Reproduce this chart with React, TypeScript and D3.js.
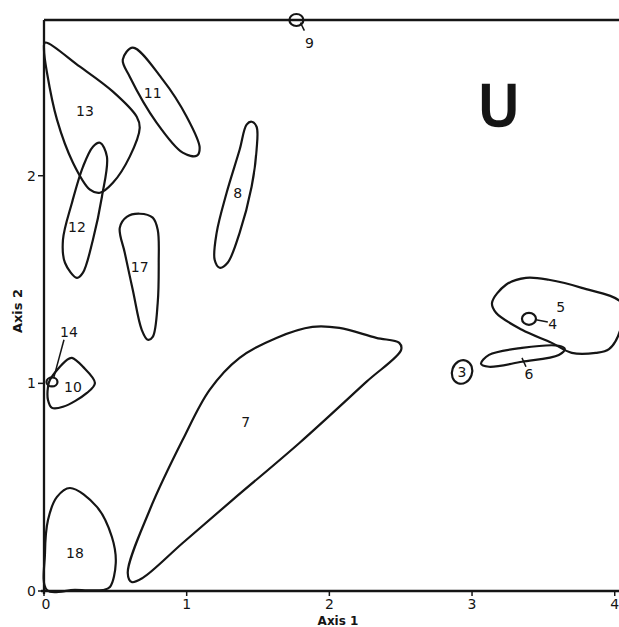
import React, { useEffect, useRef } from "react";
import * as d3 from "d3";

// outlines of the groups, in axis units [axis1, axis2]
const blob13 = [[0.007, 2.641], [0.252, 2.525], [0.483, 2.405], [0.65, 2.284], [0.671, 2.231], [0.601, 2.092], [0.483, 1.966], [0.392, 1.918], [0.322, 1.933], [0.203, 2.063], [0.091, 2.27], [0.021, 2.496], [0.0, 2.607]];
const blob11 = [[0.622, 2.617], [0.832, 2.463], [1.0, 2.284], [1.091, 2.135], [1.07, 2.096], [0.972, 2.111], [0.79, 2.255], [0.601, 2.477], [0.552, 2.559]];
const blob12 = [[0.392, 2.159], [0.441, 2.092], [0.406, 1.899], [0.343, 1.692], [0.273, 1.533], [0.231, 1.508], [0.147, 1.581], [0.133, 1.692], [0.196, 1.87], [0.273, 2.043], [0.343, 2.14]];
const blob17 = [[0.531, 1.749], [0.58, 1.802], [0.671, 1.817], [0.762, 1.798], [0.797, 1.74], [0.804, 1.581], [0.797, 1.388], [0.762, 1.224], [0.727, 1.21], [0.685, 1.258], [0.622, 1.451], [0.566, 1.629]];
const blob8 = [[1.455, 2.26], [1.49, 2.236], [1.49, 2.125], [1.455, 1.947], [1.371, 1.725], [1.287, 1.581], [1.231, 1.557], [1.196, 1.595], [1.21, 1.725], [1.28, 1.918], [1.371, 2.125], [1.42, 2.246]];
const blob10 = [[0.042, 1.017], [0.161, 1.113], [0.196, 1.123], [0.273, 1.08], [0.357, 1.002], [0.301, 0.954], [0.133, 0.887], [0.056, 0.882], [0.028, 0.92], [0.028, 0.983]];
const blob18 = [[0.182, 0.496], [0.371, 0.405], [0.476, 0.26], [0.503, 0.135], [0.462, 0.019], [0.413, 0.005], [0.217, 0.005], [0.021, 0.005], [0.007, 0.183], [0.028, 0.342], [0.091, 0.453]];
const blob7 = [[0.615, 0.043], [0.587, 0.087], [0.741, 0.39], [0.972, 0.728], [1.161, 0.969], [1.371, 1.123], [1.629, 1.219], [1.881, 1.272], [2.07, 1.267], [2.329, 1.219], [2.49, 1.195], [2.503, 1.161], [2.259, 1.007], [1.79, 0.713], [1.322, 0.439], [0.972, 0.231], [0.692, 0.063]];
const blob5 = [[3.14, 1.388], [3.238, 1.475], [3.378, 1.508], [3.538, 1.499], [3.769, 1.46], [4.05, 1.385], [4.04, 1.26], [3.96, 1.165], [3.867, 1.147], [3.699, 1.147], [3.559, 1.195], [3.35, 1.258], [3.168, 1.34]];
const blob6 = [[3.063, 1.094], [3.119, 1.137], [3.35, 1.171], [3.608, 1.181], [3.65, 1.166], [3.608, 1.137], [3.35, 1.104], [3.119, 1.08]];

const blobs = [blob13, blob11, blob12, blob17, blob8, blob10, blob18, blob7, blob5, blob6];

// single-sample groups drawn as small rings
const ringNames = ["9", "4", "14", "3"];
const ringX = [1.769, 3.399, 0.056, 2.93];
const ringY = [2.75, 1.311, 1.007, 1.055];

// group numbers
const labelNames = ["13", "11", "12", "17", "8", "10", "18", "7", "14", "5", "4", "6", "3", "9"];
const labelX = [0.287, 0.762, 0.231, 0.671, 1.357, 0.203, 0.217, 1.413, 0.175, 3.622, 3.566, 3.399, 2.93, 1.86];
const labelY = [2.313, 2.4, 1.754, 1.561, 1.918, 0.983, 0.183, 0.814, 1.248, 1.369, 1.287, 1.046, 1.055, 2.641];

// leader lines from ring to label
const leaderFrom = [[1.797, 2.737], [3.448, 1.306], [3.35, 1.123], [0.07, 1.031]];
const leaderTo = [[1.825, 2.699], [3.531, 1.296], [3.378, 1.08], [0.14, 1.21]];

const xTicks = [0, 1, 2, 3, 4];
const yTicks = [0, 1, 2];

const width = 619;
const height = 627;
const ink = "#151515";
const font = "DejaVu Sans, sans-serif";

function InitializeSVG(svgRef) {
  d3.select(svgRef.current).selectAll("*").remove();
  const svg = d3.select(svgRef.current).attr("width", width).attr("height", height);
  svg.append("rect").attr("width", width).attr("height", height).attr("fill", "#fff");
  return svg;
}

function CreateScales() {
  const x = d3.scaleLinear().domain([0, 4.03]).range([44, 619]);
  const y = d3.scaleLinear().domain([0, 2.75]).range([591, 20]);
  return { x, y };
}

function DrawAxes(svg, x, y) {
  const g = svg.append("g").attr("stroke", ink).attr("stroke-width", 2.3).attr("fill", "none");
  // frame: left, bottom, top
  g.append("line").attr("x1", x(0)).attr("x2", x(0)).attr("y1", y(2.75)).attr("y2", y(0) + 3);
  g.append("line").attr("x1", x(0) - 3).attr("x2", width).attr("y1", y(0)).attr("y2", y(0));
  g.append("line").attr("x1", x(0)).attr("x2", width).attr("y1", y(2.75)).attr("y2", y(2.75));

  g.selectAll(".xt").data(xTicks).enter().append("line")
    .attr("x1", (d) => x(d)).attr("x2", (d) => x(d))
    .attr("y1", y(0)).attr("y2", y(0) + 5).attr("stroke-width", 1.5);
  g.selectAll(".yt").data(yTicks).enter().append("line")
    .attr("x1", x(0) - 6).attr("x2", x(0))
    .attr("y1", (d) => y(d)).attr("y2", (d) => y(d)).attr("stroke-width", 1.5);

  svg.selectAll(".xl").data(xTicks).enter().append("text")
    .attr("x", (d) => x(d) + (d === 0 ? 2 : 0)).attr("y", y(0) + 18)
    .attr("text-anchor", "middle").attr("font-family", font).attr("font-size", 14)
    .attr("fill", ink).text((d) => d);
  svg.selectAll(".yl").data(yTicks).enter().append("text")
    .attr("x", x(0) - 8).attr("y", (d) => y(d) + 5)
    .attr("text-anchor", "end").attr("font-family", font).attr("font-size", 14)
    .attr("fill", ink).text((d) => d);

  svg.append("text").attr("x", 338).attr("y", 625).attr("text-anchor", "middle")
    .attr("font-family", font).attr("font-size", 12).attr("font-weight", "bold")
    .attr("fill", ink).text("Axis 1");
  svg.append("text").attr("transform", "translate(22,311) rotate(-90)").attr("text-anchor", "middle")
    .attr("font-family", font).attr("font-size", 13).attr("font-weight", "bold")
    .attr("fill", ink).text("Axis 2");
}

function DrawGroups(svg, x, y) {
  const line = d3.line()
    .x((d) => x(d[0]))
    .y((d) => y(d[1]))
    .curve(d3.curveCatmullRomClosed.alpha(0.5));

  svg.append("g").selectAll("path").data(blobs).enter().append("path")
    .attr("d", line).attr("fill", "none").attr("stroke", ink).attr("stroke-width", 2.2);

  const rings = ringNames.map((n, i) => ({ n, x: ringX[i], y: ringY[i] }));
  svg.append("g").selectAll("ellipse").data(rings).enter().append("ellipse")
    .attr("cx", (d) => x(d.x)).attr("cy", (d) => y(d.y))
    .attr("rx", (d) => (d.n === "3" ? 10 : d.n === "14" ? 5.5 : 7))
    .attr("ry", (d) => (d.n === "3" ? 12 : d.n === "14" ? 4.5 : 6))
    .attr("transform", (d) => (d.n === "3" ? `rotate(20 ${x(d.x)} ${y(d.y)})` : null))
    .attr("fill", "none").attr("stroke", ink).attr("stroke-width", 2.2);

  svg.append("g").selectAll("line").data(leaderFrom).enter().append("line")
    .attr("x1", (d) => x(d[0])).attr("y1", (d) => y(d[1]))
    .attr("x2", (d, i) => x(leaderTo[i][0])).attr("y2", (d, i) => y(leaderTo[i][1]))
    .attr("stroke", ink).attr("stroke-width", 1.5);

  svg.append("g").selectAll("text").data(labelNames).enter().append("text")
    .attr("x", (d, i) => x(labelX[i])).attr("y", (d, i) => y(labelY[i]) + 5)
    .attr("text-anchor", "middle").attr("font-family", font).attr("font-size", 14)
    .attr("fill", ink).text((d) => d);

  svg.append("text").attr("x", x(3.187)).attr("y", y(2.245))
    .attr("text-anchor", "middle").attr("font-family", font).attr("font-size", 56)
    .attr("fill", ink).attr("stroke", ink).attr("stroke-width", 2.5).text("U");
}

export default function App() {
  const svgRef = useRef(null);

  useEffect(() => {
    const svg = InitializeSVG(svgRef);
    const { x, y } = CreateScales();
    DrawAxes(svg, x, y);
    DrawGroups(svg, x, y);
  }, []);

  return <svg ref={svgRef} style={{ position: "absolute", left: 0, top: 0 }} />;
}
